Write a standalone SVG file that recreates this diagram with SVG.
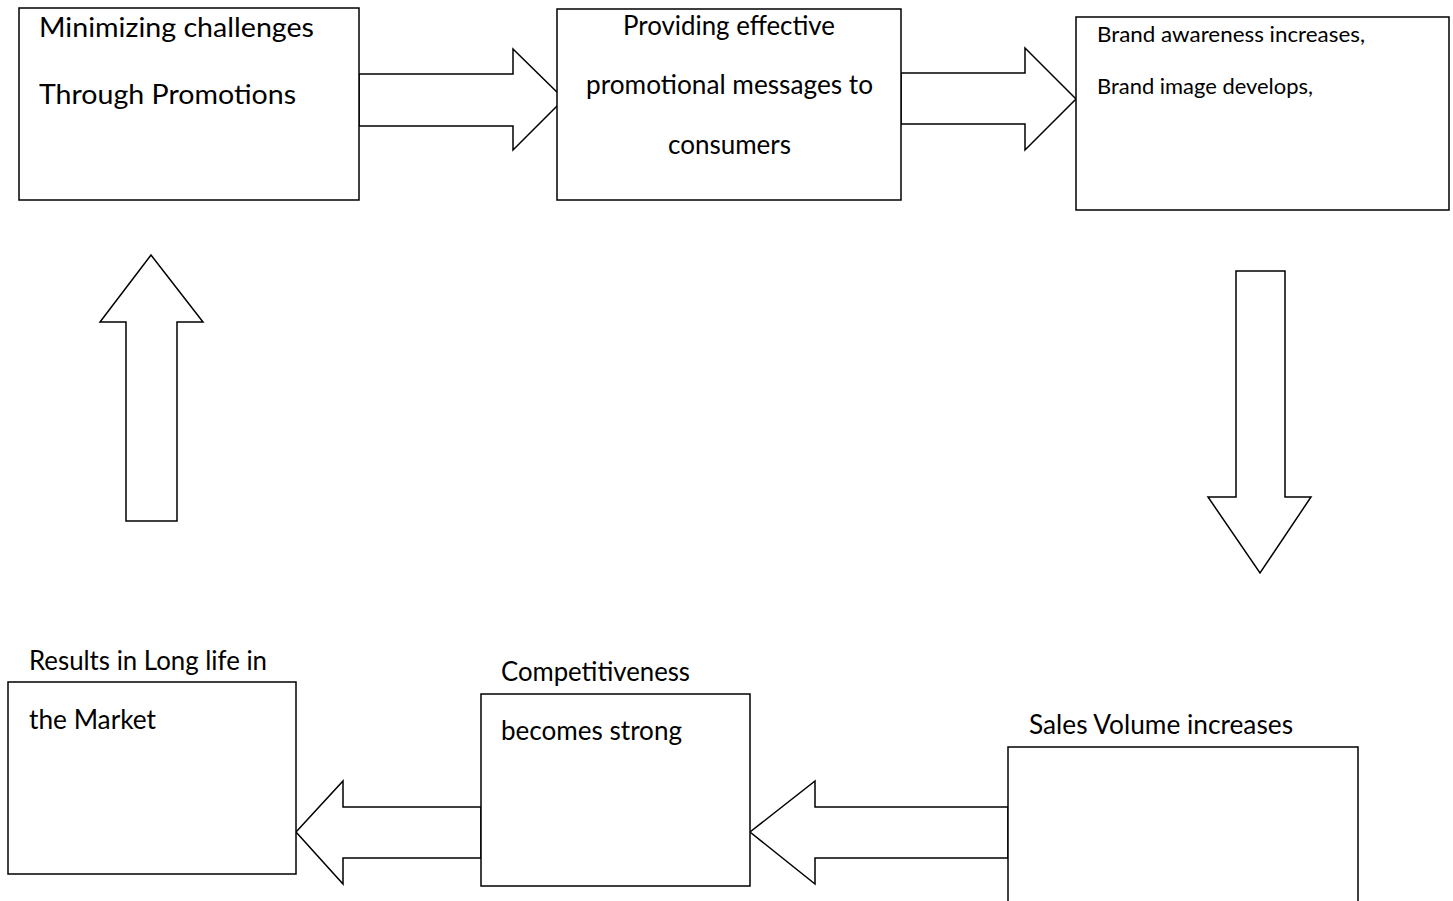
<svg xmlns="http://www.w3.org/2000/svg" width="1453" height="901" viewBox="0 0 1453 901">
<style>
.box{fill:#fff;stroke:#000;stroke-width:1.5}
.arr{fill:#fff;stroke:#000;stroke-width:1.5;stroke-linejoin:miter}
.t{font-family:Lato,"Open Sans","Liberation Sans",sans-serif;font-size:27px;fill:#000}
.s{font-family:Lato,"Open Sans","Liberation Sans",sans-serif;font-size:21px;fill:#000}
</style>
<rect width="1453" height="901" fill="#fff"/>
<g id="connectors">
<polygon class="arr" points="359,74 513,74 513,49 564,99 513,150 513,126 359,126"/>
<polygon class="arr" points="901,73 1025,73 1025,48 1076,99 1025,150 1025,124 901,124"/>
<polygon class="arr" points="1236,271 1285,271 1285,497 1311,497 1260,573 1208,497 1236,497"/>
<polygon class="arr" points="1008,807 815,807 815,781 750,832 815,884 815,858 1008,858"/>
<polygon class="arr" points="481,807 343,807 343,781 296,832 343,884 343,858 481,858"/>
<polygon class="arr" points="126,521 177,521 177,322 203,322 151,255 100,322 126,322"/>
</g>
<g id="node-minimizing">
<rect class="box" x="19" y="8" width="340" height="192"/>
<text class="t" x="39" y="37" textLength="275" lengthAdjust="spacingAndGlyphs">Minimizing challenges</text>
<text class="t" x="39" y="104" textLength="257" lengthAdjust="spacingAndGlyphs">Through Promotions</text>
</g>
<g id="node-providing">
<rect class="box" x="557" y="9" width="344" height="191"/>
<text class="t" x="623" y="35" textLength="212" lengthAdjust="spacingAndGlyphs">Providing effective</text>
<text class="t" x="586" y="94" textLength="287" lengthAdjust="spacingAndGlyphs">promotional messages to</text>
<text class="t" x="668" y="154" textLength="123" lengthAdjust="spacingAndGlyphs">consumers</text>
</g>
<g id="node-brand">
<rect class="box" x="1076" y="17" width="373" height="193"/>
<text class="s" x="1097" y="42" textLength="268" lengthAdjust="spacingAndGlyphs">Brand awareness increases,</text>
<text class="s" x="1097" y="94" textLength="216" lengthAdjust="spacingAndGlyphs">Brand image develops,</text>
</g>
<g id="node-sales">
<rect class="box" x="1008" y="747" width="350" height="170"/>
<text class="t" x="1029" y="734" textLength="264" lengthAdjust="spacingAndGlyphs">Sales Volume increases</text>
</g>
<g id="node-competitiveness">
<rect class="box" x="481" y="694" width="269" height="192"/>
<text class="t" x="501" y="681" textLength="189" lengthAdjust="spacingAndGlyphs">Competitiveness</text>
<text class="t" x="501" y="740" textLength="181" lengthAdjust="spacingAndGlyphs">becomes strong</text>
</g>
<g id="node-results">
<rect class="box" x="8" y="682" width="288" height="192"/>
<text class="t" x="29" y="670" textLength="238" lengthAdjust="spacingAndGlyphs">Results in Long life in</text>
<text class="t" x="29" y="729" textLength="127" lengthAdjust="spacingAndGlyphs">the Market</text>
</g>
</svg>
